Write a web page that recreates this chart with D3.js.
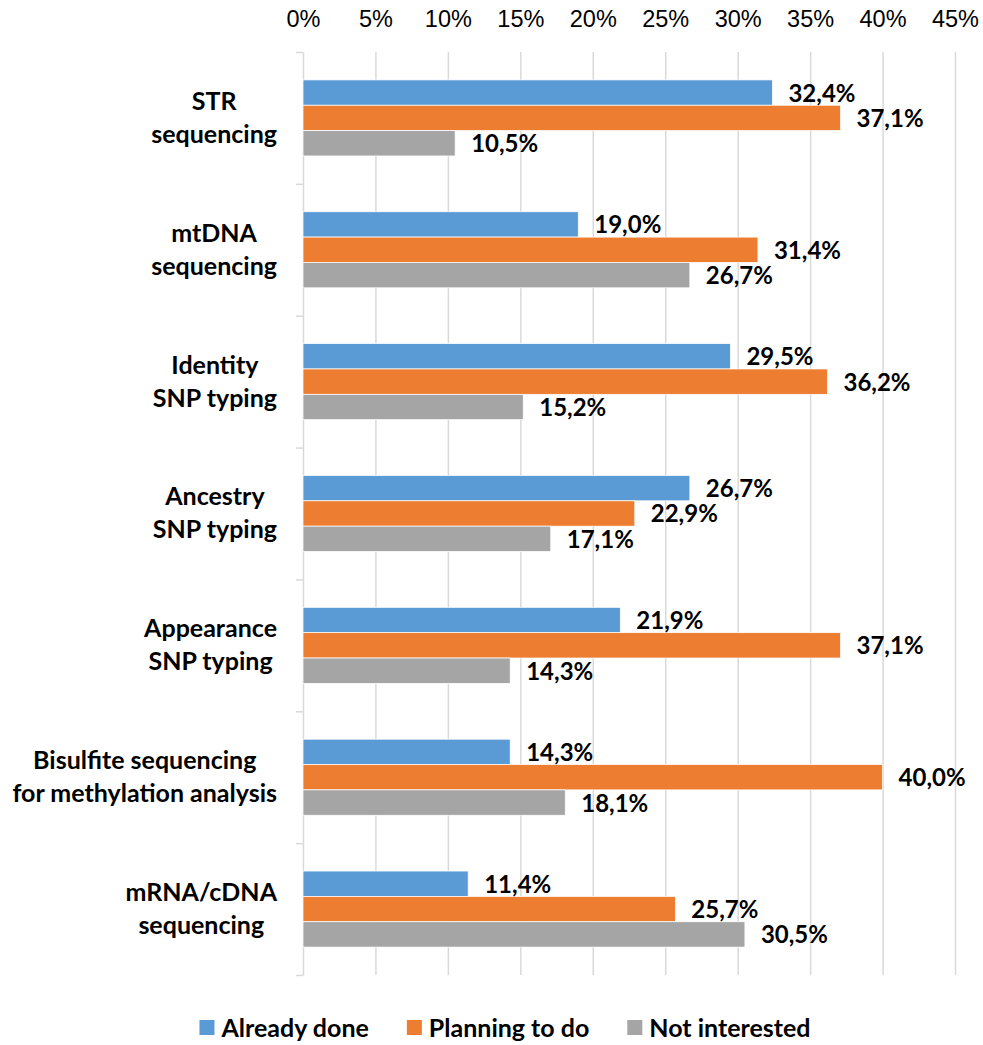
<!DOCTYPE html>
<html>
<head>
<meta charset="utf-8">
<script src="https://cdn.jsdelivr.net/npm/d3@7"></script>
<style>
body { margin: 0; background: #fff; }
svg { display: block; font-family: Lato, "Open Sans", sans-serif; }
</style>
</head>
<body>
<svg id="chart" width="983" height="1045"></svg>
<script>
"use strict"

// data
var categories = [
	["STR", "sequencing"],
	["mtDNA", "sequencing"],
	["Identity", "SNP typing"],
	["Ancestry", "SNP typing"],
	["Appearance", "SNP typing"],
	["Bisulfite sequencing", "for methylation analysis"],
	["mRNA/cDNA", "sequencing"]
];
var seriesNames   = ["Already done", "Planning to do", "Not interested"];
var alreadyDone   = [32.4, 19.0, 29.5, 26.7, 21.9, 14.3, 11.4];
var planningToDo  = [37.1, 31.4, 36.2, 22.9, 37.1, 40.0, 25.7];
var notInterested = [10.5, 26.7, 15.2, 17.1, 14.3, 18.1, 30.5];
var tickValues    = [0, 5, 10, 15, 20, 25, 30, 35, 40, 45];
var colors        = ["#5b9bd5", "#ed7d31", "#a5a5a5"];

var values = [alreadyDone, planningToDo, notInterested];

var svg = d3.select("#chart");
var top_ = 52, bottom = 975, left = 303, right = 955;

var x = d3.scaleLinear().domain([0, 45]).range([left, right]);
var y = d3.scaleBand().domain(d3.range(categories.length)).range([top_, bottom]);
var ys = d3.scaleBand().domain(d3.range(seriesNames.length))
	.range([0, y.bandwidth()]).paddingOuter(1.1);

// gridlines + top tick labels
var xAxis = svg.append("g")
	.attr("transform", "translate(0," + top_ + ")")
	.call(d3.axisTop(x).tickValues(tickValues)
		.tickFormat(function(d){ return d + "%"; })
		.tickSize(-(bottom - top_)).tickPadding(25));
xAxis.select(".domain").remove();
xAxis.selectAll("line").attr("stroke", "#d9d9d9").attr("stroke-width", 1.5);
xAxis.selectAll("text").attr("fill", "#000").style("font-size", "23.5px");
// hide gridline at 0, the left axis covers it
xAxis.selectAll(".tick").filter(function(d){ return d === 0; }).select("line").remove();

// left axis with ticks at band boundaries
var yb = d3.scaleLinear().domain([0, categories.length]).range([top_, bottom]);
var yAxis = svg.append("g")
	.attr("transform", "translate(" + left + ",0)")
	.call(d3.axisLeft(yb).tickValues(d3.range(categories.length + 1))
		.tickFormat("").tickSize(7).tickSizeOuter(0));
yAxis.selectAll("path, line").attr("stroke", "#d9d9d9").attr("stroke-width", 1.5);

// bars
var groups = svg.append("g").selectAll("g")
	.data(categories)
	.enter()
	.append("g")
	.attr("transform", function(d, i){ return "translate(0," + y(i) + ")"; });

groups.each(function(cat, i){
	var g = d3.select(this);
	var rows = values.map(function(v, s){ return {s: s, v: v[i]}; });
	g.selectAll("rect")
	 .data(rows)
	 .enter()
	 .append("rect")
	 .attr("x", x(0))
	 .attr("y", function(d){ return ys(d.s); })
	 .attr("width", function(d){ return x(d.v) - x(0); })
	 .attr("height", ys.bandwidth())
	 .attr("fill", function(d){ return colors[d.s]; })
	 .attr("stroke", "#fff")
	 .attr("stroke-width", 0.75);
	g.selectAll("text.val")
	 .data(rows)
	 .enter()
	 .append("text")
	 .attr("class", "val")
	 .attr("x", function(d){ return x(d.v) + 16; })
	 .attr("y", function(d){ return ys(d.s) + ys.bandwidth() / 2 + 9; })
	 .style("font-size", "24px")
	 .style("font-weight", "bold")
	 .text(function(d){ return d.v.toFixed(1).replace(".", ",") + "%"; });

	// category label, lines centred, block right-aligned
	var lab = g.append("text")
		.style("font-size", "25px")
		.style("font-weight", "bold");
	cat.forEach(function(line, k){
		lab.append("tspan").text(line)
		   .attr("y", y.bandwidth() / 2 - 8 + k * 33);
	});
	var widths = [];
	lab.selectAll("tspan").each(function(){ widths.push(this.getComputedTextLength()); });
	var cx = 277 - d3.max(widths) / 2;
	lab.attr("text-anchor", "middle").selectAll("tspan").attr("x", cx);
});

// legend
var legend = svg.append("g").attr("transform", "translate(0,1028)");
var items = legend.selectAll("g")
	.data(seriesNames)
	.enter()
	.append("g");
items.append("rect")
	.attr("width", 15).attr("height", 15).attr("y", -8)
	.attr("fill", function(d, i){ return colors[i]; });
items.append("text")
	.attr("x", 22).attr("y", 9)
	.style("font-size", "25px")
	.style("font-weight", "bold")
	.text(function(d){ return d; });
var offs = [], cur = 0;
items.each(function(){
	offs.push(cur);
	cur += this.getBBox().width + 38;
});
cur -= 38;
var startX = 505 - cur / 2;
items.attr("transform", function(d, i){ return "translate(" + (startX + offs[i]) + ",0)"; });
</script>
</body>
</html>
